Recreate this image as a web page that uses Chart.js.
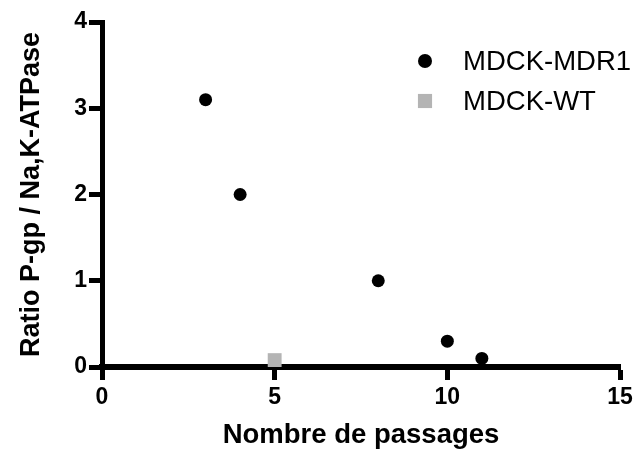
<!DOCTYPE html>
<html>
<head>
<meta charset="utf-8">
<script src="https://cdn.jsdelivr.net/npm/chart.js@4/dist/chart.umd.min.js"></script>
<style>
  html, body { margin: 0; padding: 0; background: #fff; }
  #wrap { width: 639px; height: 456px; }
</style>
</head>
<body>
<div id="wrap"><canvas id="myChart" width="639" height="456"></canvas></div>
<script>
// data
const mdr1Passages = [3, 4, 8, 10, 11];
const mdr1Ratio = [3.1, 2, 1, 0.3, 0.1];
const wtPassages = [5];
const wtRatio = [0.08];
const xTicks = [0, 5, 10, 15];
const yTicks = [0, 1, 2, 3, 4];

const FONT = "'Liberation Sans', Arial, Helvetica, sans-serif";

const toPoints = (xs, ys) => xs.map((x, i) => ({ x: x, y: ys[i] }));

// legend drawn inside the plot, top right, one item per row
const sideLegend = {
  id: "sideLegend",
  afterDraw(chart) {
    const ctx = chart.ctx;
    const area = chart.chartArea;
    ctx.save();
    ctx.font = "27.5px " + FONT;
    ctx.fillStyle = "#000";
    ctx.textBaseline = "middle";
    chart.data.datasets.forEach((ds, i) => {
      const y = area.top + 39 + i * 40;
      const x = area.left + 323;
      ctx.fillStyle = ds.backgroundColor;
      ctx.strokeStyle = ds.backgroundColor;
      Chart.helpers.drawPoint(ctx, {
        pointStyle: ds.pointStyle,
        radius: ds.pointStyle === "rect" ? 10 : 7,
        borderWidth: 0,
      }, x, y);
      ctx.fillStyle = "#000";
      ctx.fillText(ds.label, x + 38, y + 1);
    });
    ctx.restore();
  },
};

new Chart(document.getElementById("myChart"), {
  type: "scatter",
  data: {
    datasets: [
      {
        label: "MDCK-MDR1",
        data: toPoints(mdr1Passages, mdr1Ratio),
        pointStyle: "circle",
        pointRadius: 6.5,
        backgroundColor: "#000000",
        borderColor: "#000000",
        borderWidth: 0,
      },
      {
        label: "MDCK-WT",
        data: toPoints(wtPassages, wtRatio),
        pointStyle: "rect",
        pointRadius: 9.8,
        backgroundColor: "#b4b4b4",
        borderColor: "#b4b4b4",
        borderWidth: 0,
      },
    ],
  },
  options: {
    responsive: false,
    animation: false,
    clip: false,
    layout: { padding: { top: 22, right: 19, left: 0, bottom: 0 } },
    plugins: {
      legend: { display: false },
      tooltip: { enabled: false },
    },
    scales: {
      x: {
        type: "linear",
        min: 0,
        max: 15,
        afterBuildTicks: (s) => { s.ticks = xTicks.map((v) => ({ value: v })); },
        afterFit: (s) => { s.height = 89; },
        border: { display: true, color: "#000", width: 6 },
        grid: { drawOnChartArea: false, drawTicks: true, tickLength: 13, tickWidth: 5, tickColor: "#000" },
        ticks: { color: "#000", padding: 4, font: { family: FONT, size: 23, weight: "bold" } },
        title: {
          display: true,
          text: "Nombre de passages",
          color: "#000",
          padding: { top: 8, bottom: 4 },
          font: { family: FONT, size: 27.5, weight: "bold" },
        },
      },
      y: {
        type: "linear",
        min: 0,
        max: 4,
        afterBuildTicks: (s) => { s.ticks = yTicks.map((v) => ({ value: v })); },
        afterFit: (s) => { s.width = 102; },
        border: { display: true, color: "#000", width: 5 },
        grid: { drawOnChartArea: false, drawTicks: true, tickLength: 13, tickWidth: 5, tickColor: "#000" },
        ticks: { color: "#000", padding: 2, font: { family: FONT, size: 23, weight: "bold" } },
        title: {
          display: true,
          text: "Ratio P-gp / Na,K-ATPase",
          color: "#000",
          padding: { top: 15, bottom: 4 },
          font: { family: FONT, size: 27, weight: "bold" },
        },
      },
    },
  },
  plugins: [sideLegend],
});
</script>
</body>
</html>
